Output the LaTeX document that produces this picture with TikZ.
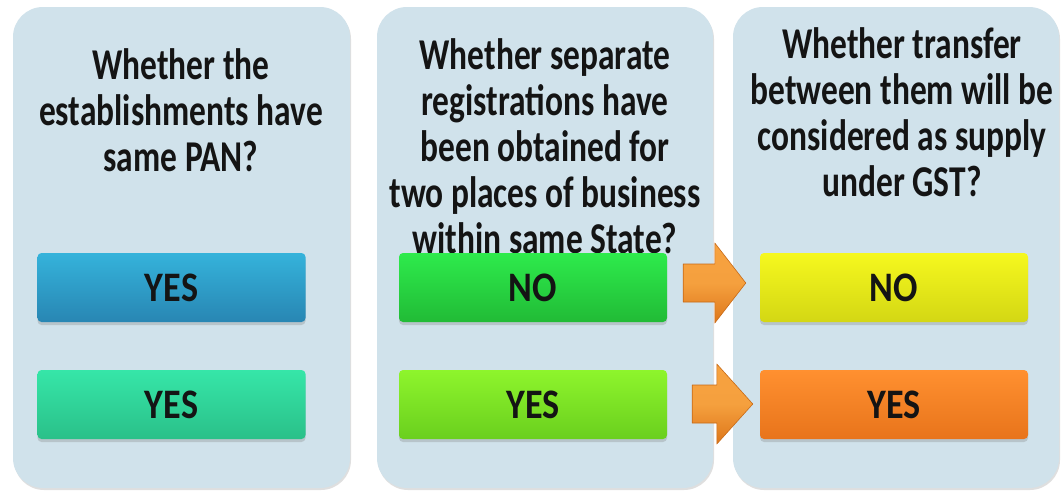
\documentclass[tikz,border=0pt]{standalone}
\usepackage{fontspec}
\newfontfamily\calib{Carlito}[FakeStretch=0.76]
\newfontfamily\calibans{Carlito}[FakeStretch=0.86]
\usetikzlibrary{shadows,calc}
\definecolor{panelbg}{HTML}{D0E2EB}
\definecolor{blueT}{HTML}{35B3DB}
\definecolor{blueB}{HTML}{2886B3}
\definecolor{tealT}{HTML}{36E6A8}
\definecolor{tealB}{HTML}{2AC089}
\definecolor{grnT}{HTML}{2EEB4C}
\definecolor{grnB}{HTML}{21BB36}
\definecolor{limeT}{HTML}{8EF52C}
\definecolor{limeB}{HTML}{6ACF1E}
\definecolor{yelT}{HTML}{F6F81E}
\definecolor{yelB}{HTML}{D3D714}
\definecolor{orgT}{HTML}{FF9030}
\definecolor{orgB}{HTML}{E8741B}
\definecolor{arrT}{HTML}{F7A240}
\definecolor{arrM}{HTML}{F5A03E}
\definecolor{arrB}{HTML}{DD761A}
\begin{document}
\begin{tikzpicture}[x=1pt,y=-1pt,
  panel/.style={fill=panelbg, rounded corners=30pt, inner sep=0pt,
    drop shadow={shadow xshift=1pt, shadow yshift=-2pt, opacity=0.25}},
  answer/.style={minimum width=268pt, minimum height=69pt, rounded corners=4pt,
    inner sep=0pt, text=black!92,
    font=\calibans\bfseries\fontsize{42}{44}\selectfont,
    drop shadow={shadow xshift=0pt, shadow yshift=-3pt, opacity=0.3}},
  question/.style={align=center, anchor=north, inner sep=0pt, text=black!92,
    font=\calib\bfseries\fontsize{44}{46}\selectfont},
  arrowfill/.style={top color=arrT, bottom color=arrB, middle color=arrM,
    draw=arrB!90!black, line width=0.6pt, line join=round}
  ]
\fill[white] (0,0) rectangle (1061,493);
\useasboundingbox (0,0) rectangle (1061,493);

% three column panels
\node[panel, minimum width=337pt, minimum height=481pt] (pan1) at (181.5,247.5) {};
\node[panel, minimum width=336pt, minimum height=481pt] (pan2) at (545,247.5) {};
\node[panel, minimum width=326pt, minimum height=481pt] (pan3) at (896,247.5) {};

% questions
\node[question] (q1) at (181,48) {Whether the\\establishments have\\same PAN?};
\node[question] (q2) at (545,38.5) {Whether separate\\registrations have\\been obtained for\\two places of business\\within same State?};
\node[question] (q3) at (902,27.5) {Whether transfer\\between them will be\\considered as supply\\under GST?};

% answer boxes
\node[answer, top color=blueT, bottom color=blueB] (y1a) at (171.5,287.5) {YES};
\node[answer, top color=tealT, bottom color=tealB] (y1b) at (171.5,404.5) {YES};
\node[answer, top color=grnT, bottom color=grnB] (no2) at (533,287.5) {NO};
\node[answer, top color=limeT, bottom color=limeB] (yes2) at (533,404.5) {YES};
\node[answer, top color=yelT, bottom color=yelB] (no3) at (894,287.5) {NO};
\node[answer, top color=orgT, bottom color=orgB] (yes3) at (894,404.5) {YES};

% block arrows between the second and third columns
\coordinate (s1) at ($(no2.east)+(16,-4.5)$);
\coordinate (t1) at ($(no3.west)+(-14,-4.5)$);
\shade[arrowfill] ($(s1)+(0,-19)$) -- ($(t1)+(-31,-19)$) -- ($(t1)+(-31,-40)$)
  -- (t1) -- ($(t1)+(-31,40)$) -- ($(t1)+(-31,19)$) -- ($(s1)+(0,19)$) -- cycle;
\coordinate (s2) at ($(yes2.east)+(25,-0.5)$);
\coordinate (t2) at ($(yes3.west)+(-7,-0.5)$);
\shade[arrowfill] ($(s2)+(0,-19)$) -- ($(t2)+(-36,-19)$) -- ($(t2)+(-36,-40)$)
  -- (t2) -- ($(t2)+(-36,40)$) -- ($(t2)+(-36,19)$) -- ($(s2)+(0,19)$) -- cycle;
\end{tikzpicture}
\end{document}
